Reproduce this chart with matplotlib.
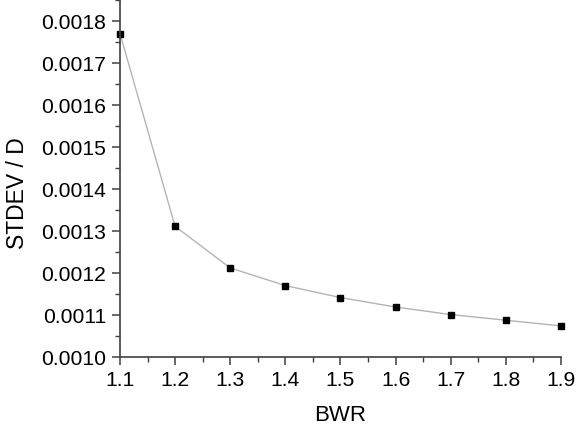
import matplotlib
matplotlib.use("Agg")
import matplotlib.pyplot as plt
from matplotlib.ticker import MultipleLocator, FormatStrFormatter

bwr = [1.1, 1.2, 1.3, 1.4, 1.5, 1.6, 1.7, 1.8, 1.9]
stdev_d = [0.00177, 0.001311, 0.001212, 0.00117, 0.0011415,
           0.001119, 0.001101, 0.0010876, 0.001074]

plt.rcParams['font.family'] = ['Liberation Sans', 'DejaVu Sans']
plt.rcParams['font.size'] = 15.2

fig = plt.figure(figsize=(5.78, 4.32), dpi=100)
ax = fig.add_axes([0.2076, 0.1736, 0.763, 0.8264])

ax.plot(bwr, stdev_d, '-', color='#b4b4b4', lw=1.0, zorder=1)
ax.plot(bwr, stdev_d, 's', color='black', ms=4.5, zorder=2, clip_on=False)

ax.set_xlim(1.1, 1.9)
ax.set_ylim(0.0010, 0.00185)
ax.xaxis.set_major_locator(MultipleLocator(0.1))
ax.xaxis.set_minor_locator(MultipleLocator(0.05))
ax.yaxis.set_major_locator(MultipleLocator(0.0001))
ax.yaxis.set_minor_locator(MultipleLocator(0.00005))
ax.xaxis.set_major_formatter(FormatStrFormatter('%.1f'))
ax.yaxis.set_major_formatter(FormatStrFormatter('%.4f'))

for side in ['top', 'right']:
    ax.spines[side].set_visible(False)
for side in ['left', 'bottom']:
    ax.spines[side].set_color('#404040')
    ax.spines[side].set_linewidth(1.2)

ax.tick_params(which='major', direction='out', length=6, width=1.1, color='#404040', pad=4)
ax.tick_params(which='minor', direction='out', length=3.5, width=1.0, color='#404040')

ax.set_xlabel('BWR', fontsize=16, labelpad=11)
ax.set_ylabel('STDEV / D', fontsize=16.5)
ax.yaxis.set_label_coords(-0.207, 0.46)

plt.savefig('out.png', dpi=100)
